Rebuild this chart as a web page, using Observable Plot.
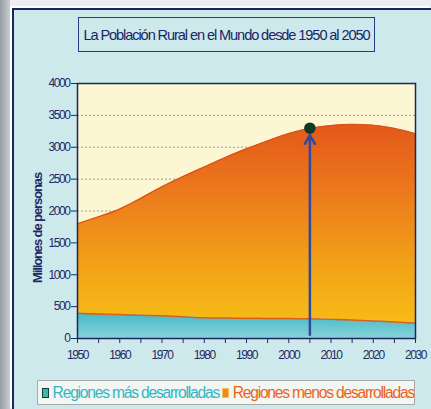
<!DOCTYPE html>
<html><head><meta charset="utf-8">
<script src="https://cdn.jsdelivr.net/npm/d3@7"></script>
<script src="https://cdn.jsdelivr.net/npm/@observablehq/plot@0.6"></script>
<style>
html,body{margin:0;padding:0;width:431px;height:409px;overflow:hidden;background:#eceff1;font-family:"Liberation Sans",Arial,sans-serif;}
#strip{position:absolute;left:0;top:0;width:10px;height:409px;background:linear-gradient(to right,#979ca2,#c9cdd1);}
#panel{position:absolute;left:12px;top:8px;width:419px;height:401px;box-sizing:border-box;border-left:2px solid #1d2462;border-top:2px solid #1d2462;background:#cde9eb;box-shadow:-2px -2px 0 #ffffff;}
#chart{position:absolute;left:0;top:0;}
#chart svg text{letter-spacing:-1.4px;}
#title{position:absolute;left:78px;top:17px;width:297px;height:35px;box-sizing:border-box;border:1.5px solid #2b3a82;display:flex;align-items:center;justify-content:center;font-size:14.6px;color:#1b2566;letter-spacing:-1.1px;white-space:nowrap;}
#ylabel{position:absolute;left:37px;top:228px;transform:translate(-50%,-50%) rotate(-90deg);font-size:13px;font-weight:bold;color:#1d2a66;letter-spacing:-1.1px;white-space:nowrap;}
#legend{position:absolute;left:37px;top:380px;width:378px;height:25px;box-sizing:border-box;border:1px solid #a9a9a9;background:#f2f7f3;display:flex;align-items:center;padding-left:4px;font-size:15.6px;letter-spacing:-1.2px;white-space:nowrap;}
.sw{display:inline-block;width:7px;height:8px;margin-right:4px;}
</style></head>
<body>
<div id="strip"></div>
<div id="panel"></div>
<div id="chart"></div>
<div id="title">La Población Rural en el Mundo desde 1950 al 2050</div>
<div id="ylabel">Millones de personas</div>
<div id="legend"><span class="sw" style="background:#3fb7a8;border:1.5px solid #123a3a"></span><span style="color:#33b6c4">Regiones más desarrolladas</span><span class="sw" style="background:#f08a1a;border:1px solid #f5c060;margin-left:3px"></span><span style="color:#e8651c">Regiones menos desarrolladas</span></div>
<script>
const years = [1950,1955,1960,1965,1970,1975,1980,1985,1990,1995,2000,2005,2010,2015,2020,2025,2030];
const developed = [395,385,375,365,355,340,325,320,318,315,312,308,300,290,275,260,240];
const lessDeveloped = [1405,1525,1655,1835,2025,2200,2365,2520,2657,2785,2903,2987,3040,3068,3070,3035,2970];
const xTicks = [1950,1960,1970,1980,1990,2000,2010,2020,2030];
const xMinor = [1955,1965,1975,1985,1995,2005,2015,2025];
const yTicks = [0,500,1000,1500,2000,2500,3000,3500,4000];
const gridVals = [500,1000,1500,2000,2500,3000,3500];
const markYear = [2005];
const markValue = [3300];

const data = years.map((y,i)=>({year:y, dev:developed[i], top:developed[i]+lessDeveloped[i]}));
const pt = markYear.map((y,i)=>({year:y, v:markValue[i]}));

const defs = () => {
  const g = d3.create("svg:defs");
  const o = g.append("linearGradient").attr("id","gOr").attr("x1",0).attr("y1",0).attr("x2",0).attr("y2",1);
  o.append("stop").attr("offset","0").attr("stop-color","#e4581a");
  o.append("stop").attr("offset","0.35").attr("stop-color","#ec7a1c");
  o.append("stop").attr("offset","0.75").attr("stop-color","#f3a617");
  o.append("stop").attr("offset","1").attr("stop-color","#f6bb16");
  const t = g.append("linearGradient").attr("id","gTe").attr("x1",0).attr("y1",0).attr("x2",0).attr("y2",1);
  t.append("stop").attr("offset","0").attr("stop-color","#45b9c9");
  t.append("stop").attr("offset","1").attr("stop-color","#86d2d6");
  return g.node();
};

const plot = Plot.plot({
  width: 431, height: 409,
  marginLeft: 77, marginRight: 16, marginTop: 83, marginBottom: 71,
  x: {domain:[1950,2030]},
  y: {domain:[0,4000]},
  style: {fontFamily:'"Liberation Sans",Arial,sans-serif', fontSize:"12px", color:"#1d2a66", background:"transparent"},
  marks: [
    defs,
    Plot.frame({fill:"#fcf6d2", stroke:null}),
    Plot.ruleY(gridVals, {stroke:"#9a9a9a", strokeDasharray:"2,2", strokeWidth:1}),
    Plot.areaY(data, {x:"year", y1:"dev", y2:"top", fill:"url(#gOr)", curve:"monotone-x"}),
    Plot.lineY(data, {x:"year", y:"top", stroke:"#d9521a", strokeWidth:1.2, curve:"monotone-x"}),
    Plot.areaY(data, {x:"year", y1:0, y2:"dev", fill:"url(#gTe)", curve:"monotone-x"}),
    Plot.lineY(data, {x:"year", y:"dev", stroke:"#dc5f1a", strokeWidth:1.5, curve:"monotone-x"}),
    Plot.arrow(pt, {x1:"year", y1:60, x2:"year", y2:d=>d.v-110, stroke:"#2c4aa0", strokeWidth:2.5, headLength:6}),
    Plot.dot(pt, {x:"year", y:"v", r:5, fill:"#0c3a22", stroke:"#0c3a22"}),
    Plot.frame({stroke:"#1d2462", strokeWidth:1.5}),
    Plot.axisX(xTicks, {tickSize:5, tickPadding:7, tickFormat:d=>String(d), label:null, fontSize:12}),
    Plot.axisX(xMinor, {tickSize:5, tickFormat:()=>"", label:null}),
    Plot.axisY(yTicks, {tickSize:6, tickPadding:2, tickFormat:d=>String(d), label:null, fontSize:12})
  ]
});
document.getElementById("chart").appendChild(plot);
</script>
</body></html>
